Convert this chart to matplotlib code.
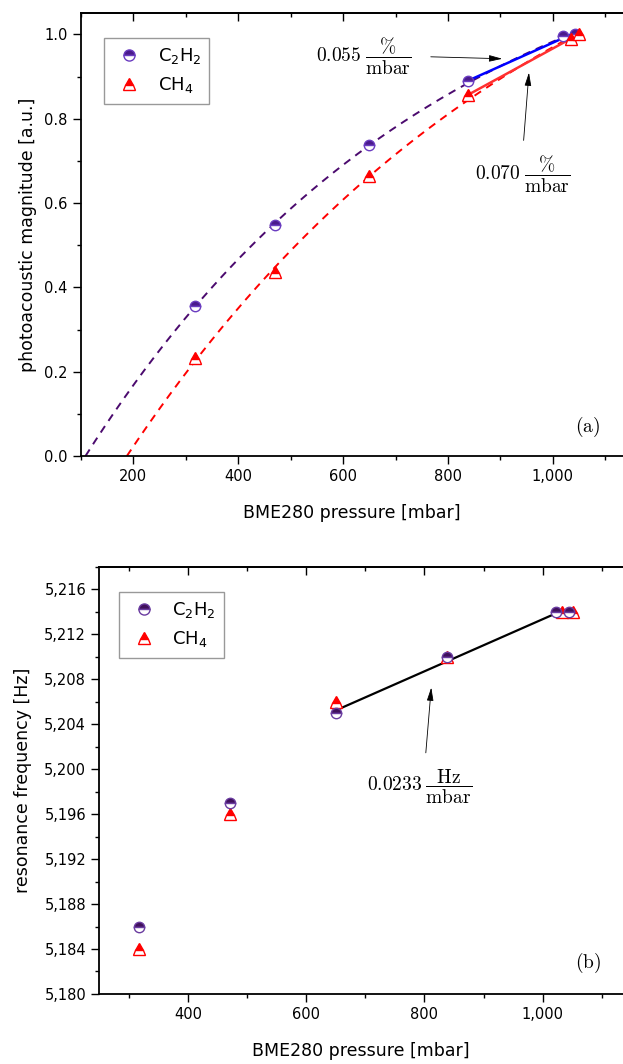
import numpy as np
import matplotlib
matplotlib.use("Agg")
import matplotlib.pyplot as plt
from matplotlib.lines import Line2D
from matplotlib.ticker import MultipleLocator, FuncFormatter

plt.rcParams['font.family'] = ['DejaVu Sans']
plt.rcParams['mathtext.fontset'] = 'dejavusans'

# (a) normalised photoacoustic magnitude vs pressure
p_c2h2_a = [318, 471, 650, 839, 1020, 1043]
mag_c2h2 = [0.357, 0.549, 0.737, 0.890, 0.996, 1.000]
p_ch4_a = [318, 471, 650, 839, 1034, 1050]
mag_ch4 = [0.232, 0.436, 0.665, 0.857, 0.990, 1.000]

# (b) resonance frequency vs pressure
p_c2h2_b = [318, 471, 650, 839, 1022, 1044]
f_c2h2 = [5186, 5197, 5205, 5210, 5214, 5214]
p_ch4_b = [318, 471, 650, 839, 1033, 1051]
f_ch4 = [5184, 5196, 5206, 5210, 5214, 5214]

purple_dash = '#4b0a6e'
c2_face_a, c2_edge_a = '#4a1a8c', '#6a3cc0'
c2_face_b, c2_edge_b = '#40105c', '#6a3ca0'
red = '#ff0000'

fig = plt.figure(figsize=(6.23, 10.64), dpi=100)
ax1 = fig.add_axes([0.130, 0.5714, 0.870, 0.4161])
ax2 = fig.add_axes([0.1594, 0.0658, 0.8406, 0.4016])

tick_fs = 10.5
label_fs = 12.5


def style_axes(ax):
    ax.spines['right'].set_visible(False)
    for s in ['left', 'bottom', 'top']:
        ax.spines[s].set_linewidth(1.3)
    ax.tick_params(axis='both', which='major', direction='out', length=6, width=1,
                   labelsize=tick_fs, top=False, right=False)
    ax.tick_params(axis='both', which='minor', direction='out', length=3, width=1,
                   top=False, right=False)
    sec = ax.secondary_xaxis('top')
    sec.xaxis.set_major_locator(ax.xaxis.get_major_locator())
    sec.xaxis.set_minor_locator(ax.xaxis.get_minor_locator())
    sec.tick_params(which='major', direction='in', length=6, width=1, labeltop=False)
    sec.tick_params(which='minor', direction='in', length=3, width=1)
    sec.spines['top'].set_linewidth(1.3)


def half_marker(ax, x, y, kind, face, edge, ms, z):
    ax.plot(x, y, ls='none', marker=kind, ms=ms, fillstyle='top',
            markerfacecolor=face, markerfacecoloralt='white',
            markeredgecolor=edge, markeredgewidth=1.0, zorder=z)


def exp_fit(x, y):
    # y = A + B*exp(-x/tau), tau found by a simple scan
    x = np.asarray(x, float)
    y = np.asarray(y, float)
    best = None
    for tau in np.linspace(100, 5000, 2451):
        M = np.column_stack([np.ones_like(x), np.exp(-x / tau)])
        c = np.linalg.lstsq(M, y, rcond=None)[0]
        err = np.sum((M @ c - y) ** 2)
        if best is None or err < best[0]:
            best = (err, tau, c)
    return best[1], best[2]


# ---------- panel (a) ----------
ax1.set_xlim(100, 1134)
ax1.set_ylim(0, 1.05)
ax1.xaxis.set_major_locator(MultipleLocator(200))
ax1.xaxis.set_minor_locator(MultipleLocator(100))
ax1.yaxis.set_major_locator(MultipleLocator(0.2))
ax1.yaxis.set_minor_locator(MultipleLocator(0.1))
ax1.xaxis.set_major_formatter(FuncFormatter(lambda v, _: f'{v:,.0f}'))
ax1.yaxis.set_major_formatter(FuncFormatter(lambda v, _: f'{v:.1f}'))
style_axes(ax1)

# saturating fits, drawn dashed from the zero crossing
for px, py, col in [(p_c2h2_a, mag_c2h2, purple_dash), (p_ch4_a, mag_ch4, red)]:
    tau, (A, B) = exp_fit(px, py)
    x0 = -tau * np.log(-A / B)
    xs = np.linspace(max(x0, 100), max(px), 300)
    ax1.plot(xs, A + B * np.exp(-xs / tau), ls=(0, (4, 3.2)), color=col, lw=1.4, zorder=2)

# linear fits over the high-pressure points
for px, py, col in [(p_c2h2_a, mag_c2h2, '#0000ff'), (p_ch4_a, mag_ch4, '#ff3030')]:
    k, b = np.polyfit(px[3:], py[3:], 1)
    xs = np.array([px[3], px[-1]])
    ax1.plot(xs, k * xs + b, color=col, lw=1.8, zorder=3)

half_marker(ax1, p_c2h2_a, mag_c2h2, 'o', c2_face_a, c2_edge_a, 7.5, 4)
half_marker(ax1, p_ch4_a, mag_ch4, '^', red, red, 8.5, 5)

arrow_kw = dict(arrowstyle='-|>,head_length=0.8,head_width=0.2', color='black', lw=0.6)
ann_fs = 14
ax1.annotate('', xy=(909, 0.942), xytext=(762, 0.947), arrowprops=arrow_kw)
ax1.text(730, 0.947, r'$0.055\;\dfrac{\%}{\mathrm{mbar}}$', fontsize=ann_fs,
         ha='right', va='center', math_fontfamily='cm')
ax1.annotate('', xy=(955, 0.916), xytext=(944, 0.742), arrowprops=arrow_kw)
ax1.text(942, 0.667, r'$0.070\;\dfrac{\%}{\mathrm{mbar}}$', fontsize=ann_fs,
         ha='center', va='center', math_fontfamily='cm')
ax1.text(0.935, 0.0655, r'$\mathrm{(a)}$', transform=ax1.transAxes, fontsize=14,
         ha='center', va='center', math_fontfamily='cm')

ax1.set_xlabel('BME280 pressure [mbar]', fontsize=label_fs, labelpad=14)
ax1.set_ylabel('photoacoustic magnitude [a.u.]', fontsize=label_fs)
ax1.yaxis.set_label_coords(-0.082, 0.5)

# ---------- panel (b) ----------
ax2.set_xlim(250, 1136)
ax2.set_ylim(5180, 5218)
ax2.xaxis.set_major_locator(MultipleLocator(200))
ax2.xaxis.set_minor_locator(MultipleLocator(100))
ax2.yaxis.set_major_locator(MultipleLocator(4))
ax2.yaxis.set_minor_locator(MultipleLocator(2))
ax2.xaxis.set_major_formatter(FuncFormatter(lambda v, _: f'{v:,.0f}'))
ax2.yaxis.set_major_formatter(FuncFormatter(lambda v, _: f'{v:,.0f}'))
style_axes(ax2)

k, b = np.polyfit(p_c2h2_b[2:], f_c2h2[2:], 1)
xs = np.array([p_c2h2_b[2], p_c2h2_b[4]])
ax2.plot(xs, k * xs + b, color='black', lw=1.6, zorder=3)

half_marker(ax2, p_ch4_b, f_ch4, '^', red, red, 8.5, 4)
half_marker(ax2, p_c2h2_b, f_c2h2, 'o', c2_face_b, c2_edge_b, 7.5, 5)

ax2.annotate('', xy=(812, 5207.5), xytext=(802, 5201.2), arrowprops=arrow_kw)
ax2.text(792, 5198.4, r'$0.0233\;\dfrac{\mathrm{Hz}}{\mathrm{mbar}}$', fontsize=ann_fs,
         ha='center', va='center', math_fontfamily='cm')
ax2.text(0.933, 0.0725, r'$\mathrm{(b)}$', transform=ax2.transAxes, fontsize=14,
         ha='center', va='center', math_fontfamily='cm')

ax2.set_xlabel('BME280 pressure [mbar]', fontsize=label_fs, labelpad=14)
ax2.set_ylabel('resonance frequency [Hz]', fontsize=label_fs)
ax2.yaxis.set_label_coords(-0.128, 0.5)

# legends
for ax, face, edge, anchor in [(ax1, c2_face_a, c2_edge_a, (0.043, 0.9435)),
                               (ax2, c2_face_b, c2_edge_b, (0.038, 0.940))]:
    h1 = Line2D([], [], ls='none', marker='o', ms=8, fillstyle='top',
                markerfacecolor=face, markerfacecoloralt='white',
                markeredgecolor=edge, markeredgewidth=1.0)
    h2 = Line2D([], [], ls='none', marker='^', ms=9, fillstyle='top',
                markerfacecolor=red, markerfacecoloralt='white',
                markeredgecolor=red, markeredgewidth=1.0)
    leg = ax.legend([h1, h2], ['C$_2$H$_2$', 'CH$_4$'], loc='upper left',
                    bbox_to_anchor=anchor, borderaxespad=0, fontsize=13,
                    frameon=True, fancybox=False, handlelength=1.8,
                    handletextpad=0.7, labelspacing=0.5, borderpad=0.45)
    leg.get_frame().set_edgecolor('#808080')
    leg.get_frame().set_linewidth(1.0)

fig.savefig('out.png', dpi=100)
